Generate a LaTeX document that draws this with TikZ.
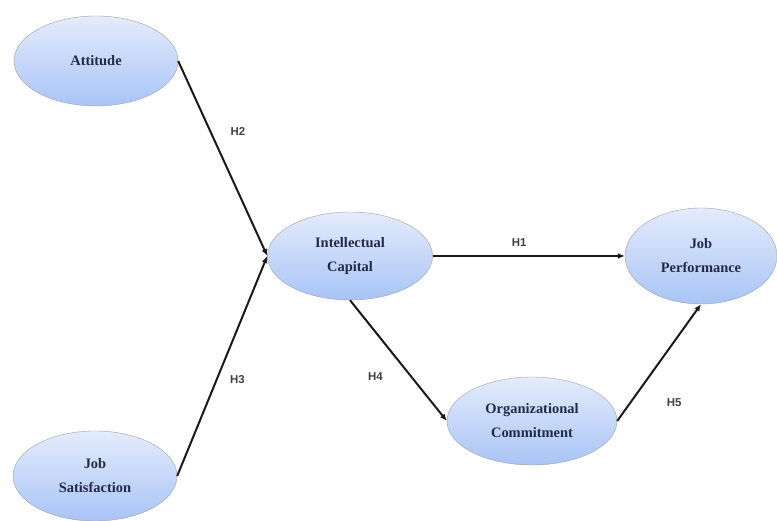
\documentclass[tikz,border=0pt]{standalone}
\usepackage{fontspec}
\setmainfont{Liberation Serif}
\setsansfont{Liberation Sans}
\usetikzlibrary{arrows.meta,positioning,shapes.geometric}

\definecolor{ovaltop}{RGB}{228,236,252}
\definecolor{ovalbot}{RGB}{168,196,246}
\definecolor{ovaltext}{RGB}{35,42,72}

\tikzset{
  construct/.style={ellipse, draw=gray!75, thin, top color=ovaltop, bottom color=ovalbot,
    minimum width=164bp, minimum height=90bp, inner sep=0pt, align=center,
    font=\fontsize{14.5}{24}\selectfont\bfseries, text=ovaltext},
  hyp/.style={-{Latex[length=7pt,width=6pt]}, line width=2pt, black!90},
  hlabel/.style={font=\sffamily\bfseries\fontsize{11.5}{13}\selectfont, text=black!75}
}

\begin{document}
\begin{tikzpicture}[x=1bp,y=1bp]
    \useasboundingbox (0,0) rectangle (777,521);

    % Constructs
    \node[construct] (att) at (96,460) {Attitude};
    \node[construct] (js) at (95,45) {Job\\Satisfaction};
    \node[construct, minimum width=165bp, minimum height=88bp] (ic) at (350,265) {Intellectual\\Capital};
    \node[construct, minimum width=152bp, minimum height=96bp] (jp) at (701,265) {Job\\Performance};
    \node[construct, minimum width=170bp, minimum height=88bp] (oc) at (532,100) {Organizational\\Commitment};

    % Hypotheses
    \draw[hyp] (att.east) -- node[hlabel, pos=0.36, right=16bp] {H2} (ic.west);
    \draw[hyp] (js.east) -- node[hlabel, pos=0.44, right=9bp] {H3} (ic.west);
    \draw[hyp] (ic.east) -- node[hlabel, pos=0.45, above=5bp] {H1} (jp.west);
    \draw[hyp] (ic.south) -- node[hlabel, pos=0.63, left=24bp] {H4} (oc.west);
    \draw[hyp] (oc.east) -- node[hlabel, pos=0.16, right=32bp] {H5} (jp.south);
\end{tikzpicture}
\end{document}
